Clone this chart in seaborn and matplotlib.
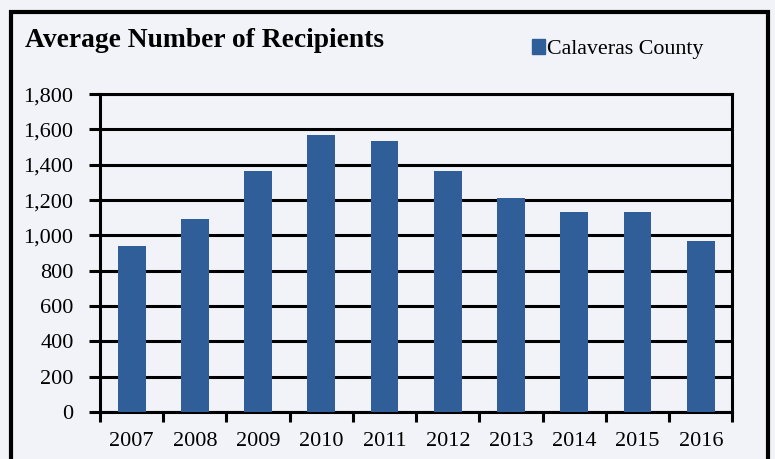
import numpy as np
import pandas as pd

import matplotlib.pyplot as plt
import matplotlib.patches as mpatches
from matplotlib.ticker import FuncFormatter, FixedLocator
import seaborn as sns

# Datos
anios = ["2007", "2008", "2009", "2010", "2011", "2012", "2013", "2014", "2015", "2016"]
recipientes = [940, 1095, 1365, 1570, 1535, 1365, 1210, 1130, 1130, 970]
serie = "Calaveras County"
titulo = "Average Number of Recipients"
y_ticks = [0, 200, 400, 600, 800, 1000, 1200, 1400, 1600, 1800]

color_barra = "#2f5e99"
fondo = "#f1f3f9"

sns.set_style("white")
plt.rcParams['font.family'] = ['Liberation Serif', 'DejaVu Serif']
plt.rcParams['text.color'] = "black"
plt.rcParams['xtick.color'] = "black"
plt.rcParams['ytick.color'] = "black"

df = pd.DataFrame({"Año": anios, "Recipientes": recipientes})

fig = plt.figure(figsize=(7.75, 4.59), dpi=100, facecolor=fondo)
ax = fig.add_axes([0.129, 0.102, 0.816, 0.693])
ax.set_facecolor(fondo)

sns.barplot(data=df, x="Año", y="Recipientes", color=color_barra,
            width=0.44, saturation=1, ax=ax, zorder=3, linewidth=0, edgecolor="none")

ax.set_ylim(0, 1800)
ax.set_xlim(-0.5, len(anios) - 0.5)
ax.yaxis.set_major_locator(FixedLocator(y_ticks))
ax.yaxis.set_major_formatter(FuncFormatter(lambda v, p: f"{int(v):,}"))
ax.grid(axis="y", color="black", linewidth=2.2, zorder=1)
ax.set_axisbelow(True)
ax.set_xlabel("")
ax.set_ylabel("")

for lado in ["left", "bottom", "right", "top"]:
    ax.spines[lado].set_visible(True)
    ax.spines[lado].set_color("black")
    ax.spines[lado].set_linewidth(2.2)

# Marcas del eje x entre categorias
ax.xaxis.set_minor_locator(FixedLocator(np.arange(-0.5, len(anios), 1.0)))
ax.tick_params(axis="x", which="major", bottom=True, length=0, labelsize=16, pad=14)
ax.tick_params(axis="x", which="minor", bottom=True, length=7, width=2.2,
               direction="out", color="black")
ax.tick_params(axis="y", which="major", left=True, length=8, width=2.2, direction="out",
               color="black", labelsize=16, pad=11)

fig.text(0.032, 0.898, titulo, fontsize=19.8, fontweight="bold", va="baseline", ha="left")

parche = mpatches.Patch(color=color_barra, label=serie)
fig.legend(handles=[parche], loc="center left", bbox_to_anchor=(0.686, 0.893),
           frameon=False, fontsize=15.8, handlelength=0.6, handleheight=0.7,
           handletextpad=0.1, borderpad=0, borderaxespad=0)

# Marco exterior
marco = mpatches.Rectangle((11 / 775, -0.05), (768 - 11) / 775, 1.05 - 12 / 459,
                           transform=fig.transFigure, fill=False,
                           edgecolor="black", linewidth=3)
fig.patches.append(marco)

fig.savefig("out.png", dpi=100, facecolor=fondo)
